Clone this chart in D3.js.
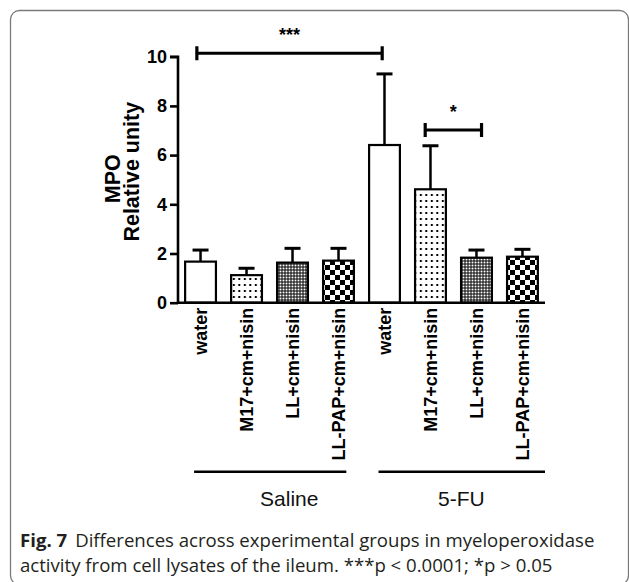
<!DOCTYPE html>
<html>
<head>
<meta charset="utf-8">
<script src="https://cdn.jsdelivr.net/npm/d3@7"></script>
<style>
  html, body { margin: 0; padding: 0; background: #fff; }
  svg { display: block; }
</style>
</head>
<body>
<div id="chart"></div>
<script>
// ---------- data ----------
const categories = ["water", "M17+cm+nisin", "LL+cm+nisin", "LL-PAP+cm+nisin",
                    "water", "M17+cm+nisin", "LL+cm+nisin", "LL-PAP+cm+nisin"];
const means   = [1.67, 1.12, 1.63, 1.71, 6.41, 4.61, 1.83, 1.87];
const errTops = [2.14, 1.40, 2.21, 2.21, 9.30, 6.38, 2.14, 2.17];
const fills   = ["white", "dots", "dense", "checker", "white", "dots", "dense", "checker"];
const yTicks  = [0, 2, 4, 6, 8, 10];
const groupNames = ["Saline", "5-FU"];
const groupStart = [0, 4];
const groupEnd   = [3, 7];
// significance brackets: positions in category-index units, height in data units
const sigFrom   = [-0.08, 4.885];
const sigTo     = [3.95, 6.11];
const sigLevel  = [10.14, 7.02];
const sigLabels = ["***", "*"];
const yTitle = ["MPO", "Relative unity"];
const captionBold = "Fig. 7";
const captionLine1 = "Differences across experimental groups in myeloperoxidase";
const captionLine2 = "activity from cell lysates of the ileum. ***p < 0.0001; *p > 0.05";

// ---------- layout ----------
const W = 629, H = 582;
const svg = d3.select("#chart").append("svg").attr("width", W).attr("height", H);

const defs = svg.append("defs");
// sparse dots
const pDots = defs.append("pattern").attr("id", "dots").attr("patternUnits", "userSpaceOnUse")
  .attr("width", 5.5).attr("height", 6);
pDots.append("rect").attr("width", 5.5).attr("height", 6).attr("fill", "#fff");
pDots.append("rect").attr("x", 1.8).attr("y", 2).attr("width", 2).attr("height", 2).attr("fill", "#000");
// dense mesh
const pDense = defs.append("pattern").attr("id", "dense").attr("patternUnits", "userSpaceOnUse")
  .attr("width", 3).attr("height", 3);
pDense.append("rect").attr("width", 3).attr("height", 3).attr("fill", "#000");
pDense.append("rect").attr("x", 0.5).attr("y", 0.5).attr("width", 2).attr("height", 2).attr("fill", "#fff");
// checkerboard
const pCheck = defs.append("pattern").attr("id", "checker").attr("patternUnits", "userSpaceOnUse")
  .attr("width", 10).attr("height", 10);
pCheck.append("rect").attr("width", 10).attr("height", 10).attr("fill", "#fff");
pCheck.append("rect").attr("width", 5).attr("height", 5).attr("fill", "#000");
pCheck.append("rect").attr("x", 5).attr("y", 5).attr("width", 5).attr("height", 5).attr("fill", "#000");

// frame
svg.append("rect").attr("x", 10.5).attr("y", 10.5).attr("width", 618).attr("height", 574)
  .attr("rx", 9).attr("fill", "none").attr("stroke", "#7a7a7a").attr("stroke-width", 1.3);

const xLeft = 178, xRight = 545, yBottom = 302.7, yTop = 56.7;
const x = d3.scaleBand().domain(d3.range(categories.length)).range([xLeft, xRight])
  .paddingInner(0.33).paddingOuter(0.155);
const y = d3.scaleLinear().domain([0, 10]).range([yBottom, yTop]);
const bw = x.bandwidth();
const xi = d3.scaleLinear().domain([0, 1]).range([x(0) + bw / 2, x(1) + bw / 2]);

const font = "'Liberation Sans', Arial, Helvetica, sans-serif";

// bars
const g = svg.append("g");
g.selectAll("rect.bar").data(means).join("rect").attr("class", "bar")
  .attr("x", (d, i) => x(i)).attr("y", d => y(d))
  .attr("width", bw).attr("height", d => y(0) - y(d))
  .attr("fill", (d, i) => fills[i] === "white" ? "#fff" : `url(#${fills[i]})`)
  .attr("stroke", "#000").attr("stroke-width", 2.2);

// error bars
g.selectAll("line.err").data(means).join("line").attr("class", "err")
  .attr("x1", (d, i) => x(i) + bw / 2).attr("x2", (d, i) => x(i) + bw / 2)
  .attr("y1", d => y(d)).attr("y2", (d, i) => y(errTops[i]))
  .attr("stroke", "#000").attr("stroke-width", 2.5);
g.selectAll("line.cap").data(errTops).join("line").attr("class", "cap")
  .attr("x1", (d, i) => x(i) + bw / 2 - 8).attr("x2", (d, i) => x(i) + bw / 2 + 8)
  .attr("y1", d => y(d)).attr("y2", d => y(d))
  .attr("stroke", "#000").attr("stroke-width", 3);

// y axis
const yAxis = svg.append("g").attr("transform", `translate(${xLeft},0)`)
  .call(d3.axisLeft(y).tickValues(yTicks).tickSize(8).tickPadding(3).tickFormat(d3.format("d")));
yAxis.select(".domain").attr("stroke-width", 2.6).attr("d", `M-8,${y(10)}H0V${y(0)}`);
yAxis.selectAll(".tick line").attr("stroke-width", 2.6);
yAxis.selectAll(".tick text").attr("font-family", font).attr("font-weight", "bold")
  .attr("font-size", 18).attr("fill", "#000");

// x axis
const xAxis = svg.append("g").attr("transform", `translate(0,${yBottom})`)
  .call(d3.axisBottom(x).tickSize(0).tickFormat(i => categories[i]));
xAxis.select(".domain").attr("stroke-width", 2.6).attr("d", `M${xLeft},0H${xRight}`);
xAxis.selectAll(".tick text").attr("font-family", font).attr("font-weight", "bold")
  .attr("font-size", 18).attr("fill", "#000")
  .attr("text-anchor", "end").attr("transform", "translate(0,5) rotate(-90)")
  .attr("x", 0).attr("y", 0).attr("dy", "0.36em");

// y title
svg.append("text").attr("transform", `translate(120,${(yTop + yBottom) / 2 - 1}) rotate(-90)`)
  .attr("text-anchor", "middle").attr("font-family", font).attr("font-weight", "bold")
  .attr("font-size", 21.5).text(yTitle[0]);
svg.append("text").attr("transform", `translate(139,${(yTop + yBottom) / 2 - 8}) rotate(-90)`)
  .attr("text-anchor", "middle").attr("font-family", font).attr("font-weight", "bold")
  .attr("font-size", 21.5).text(yTitle[1]);

// significance brackets
sigLabels.forEach((lab, k) => {
  const x1 = xi(sigFrom[k]), x2 = xi(sigTo[k]), yy = y(sigLevel[k]);
  svg.append("line").attr("x1", x1).attr("x2", x2).attr("y1", yy).attr("y2", yy)
    .attr("stroke", "#000").attr("stroke-width", 3);
  [x1, x2].forEach(xx => svg.append("line").attr("x1", xx).attr("x2", xx)
    .attr("y1", yy - 7).attr("y2", yy + 7).attr("stroke", "#000").attr("stroke-width", 3.2));
  svg.append("text").attr("x", (x1 + x2) / 2).attr("y", yy - 12)
    .attr("text-anchor", "middle").attr("font-family", font).attr("font-weight", "bold")
    .attr("font-size", 18).text(lab);
});

// group lines and labels
const groupPadL = [-0.14, -0.13], groupPadR = [0.17, 0.49];
const groupLabelShift = [0.43, 0.17];
groupNames.forEach((name, k) => {
  const a = xi(groupStart[k] + groupPadL[k]), b = xi(groupEnd[k] + groupPadR[k]);
  svg.append("line").attr("x1", a).attr("x2", b).attr("y1", 471.7).attr("y2", 471.7)
    .attr("stroke", "#000").attr("stroke-width", 2.4);
  svg.append("text").attr("x", xi((groupStart[k] + groupEnd[k]) / 2 + groupLabelShift[k])).attr("y", 506)
    .attr("text-anchor", "middle").attr("font-family", font).attr("font-size", 21)
    .attr("fill", "#111").text(name);
});

// caption
const capFont = "'Open Sans', 'Noto Sans', sans-serif";
const cap1 = svg.append("text").attr("x", 20).attr("y", 547).attr("font-family", capFont)
  .attr("font-size", 18.6).attr("fill", "#231f20");
cap1.append("tspan").attr("font-weight", "bold").text(captionBold);
cap1.append("tspan").attr("dx", 8).text(captionLine1);
svg.append("text").attr("x", 20).attr("y", 572).attr("font-family", capFont)
  .attr("font-size", 18.6).attr("fill", "#231f20").text(captionLine2);
</script>
</body>
</html>
